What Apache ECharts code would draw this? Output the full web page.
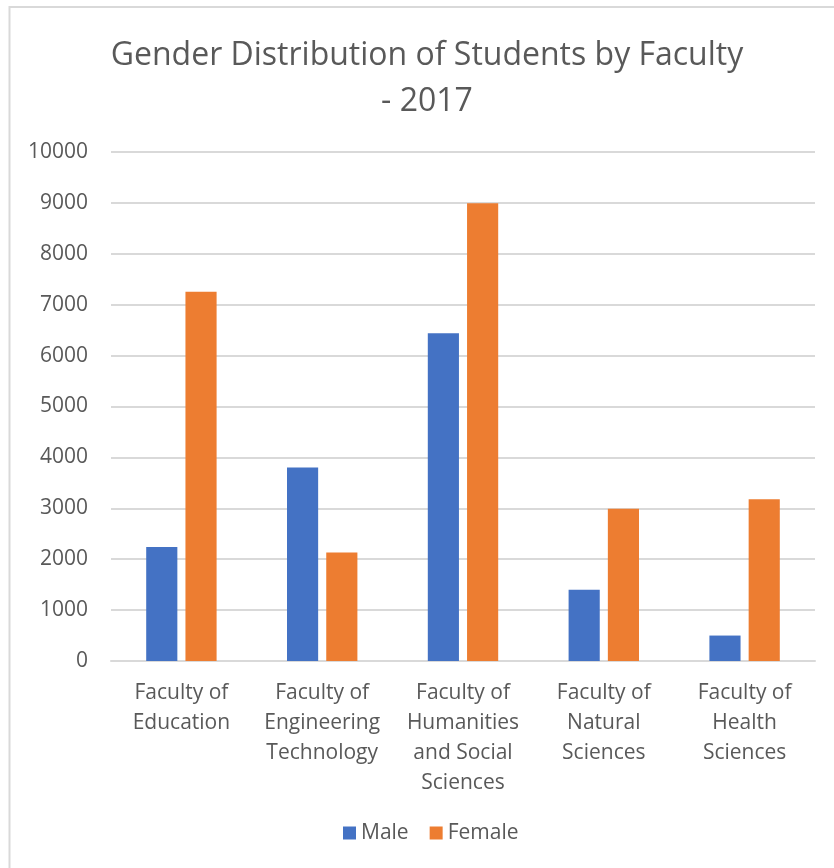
<!DOCTYPE html>
<html>
<head>
<meta charset="utf-8">
<script src="https://cdn.jsdelivr.net/npm/echarts@6/dist/echarts.min.js"></script>
<style>
html,body{margin:0;padding:0;background:#fff;}
#chart{width:834px;height:868px;}
</style>
</head>
<body>
<div id="chart"></div>
<script>
const titleText = 'Gender Distribution of Students by Faculty\n- 2017';
const categories = [
  'Faculty of\nEducation',
  'Faculty of\nEngineering\nTechnology',
  'Faculty of\nHumanities\nand Social\nSciences',
  'Faculty of\nNatural\nSciences',
  'Faculty of\nHealth\nSciences'
];
const seriesNames = ['Male', 'Female'];
const maleValues = [2240, 3800, 6440, 1400, 500];
const femaleValues = [7255, 2130, 8995, 2990, 3180];
const yMin = 0, yMax = 10000, yStep = 1000;

const textColor = '#595959';
const font = '"Open Sans", sans-serif';

const chart = echarts.init(document.getElementById('chart'), null, {renderer: 'canvas'});
chart.setOption({
  animation: false,
  backgroundColor: '#ffffff',
  graphic: [{
    type: 'rect',
    shape: {x: 9.5, y: 7, width: 900, height: 900},
    style: {fill: 'none', stroke: '#d9d9d9', lineWidth: 2},
    silent: true
  }],
  title: {
    text: titleText,
    left: 427,
    textAlign: 'center',
    top: 33,
    padding: 0,
    textStyle: {
      color: textColor,
      fontFamily: font,
      fontSize: 32,
      fontWeight: 'normal',
      lineHeight: 46
    }
  },
  legend: {
    data: seriesNames,
    left: 343,
    top: 822,
    padding: 0,
    icon: 'rect',
    itemWidth: 13,
    itemHeight: 13,
    itemGap: 21,
    textStyle: {color: textColor, fontFamily: font, fontSize: 21, lineHeight: 22}
  },
  grid: {left: 111, right: 19, top: 152, bottom: 207, containLabel: false},
  xAxis: {
    type: 'category',
    data: categories,
    axisLine: {show: true, lineStyle: {color: '#d9d9d9', width: 2}},
    axisTick: {show: false},
    axisLabel: {
      interval: 0,
      margin: 17,
      color: textColor,
      fontFamily: font,
      fontSize: 21,
      lineHeight: 30,
      align: 'center'
    }
  },
  yAxis: {
    type: 'value',
    min: yMin,
    max: yMax,
    interval: yStep,
    axisLine: {show: false},
    axisTick: {show: false},
    splitLine: {lineStyle: {color: '#d9d9d9', width: 2}},
    axisLabel: {
      margin: 23,
      color: textColor,
      fontFamily: font,
      fontSize: 21,
      formatter: function (v) { return String(v); }
    }
  },
  series: [
    {
      name: seriesNames[0],
      type: 'bar',
      data: maleValues,
      itemStyle: {color: '#4472C4'},
      barGap: '26%',
      barCategoryGap: '50%'
    },
    {
      name: seriesNames[1],
      type: 'bar',
      data: femaleValues,
      itemStyle: {color: '#ED7D31'},
      barGap: '26%',
      barCategoryGap: '50%'
    }
  ]
});
</script>
</body>
</html>
